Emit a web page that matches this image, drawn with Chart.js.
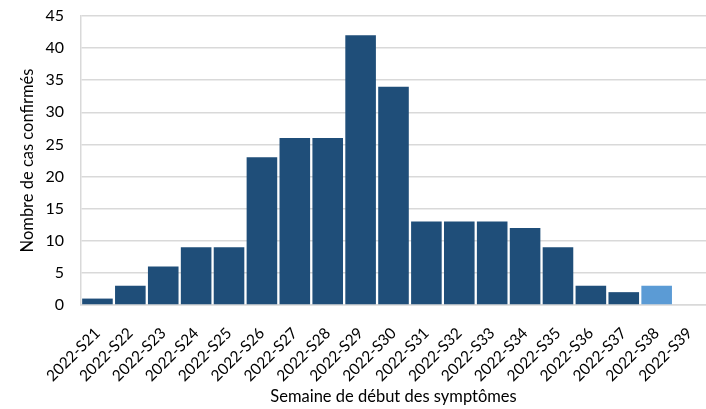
<!DOCTYPE html>
<html><head><meta charset="utf-8">
<script src="https://cdn.jsdelivr.net/npm/chart.js@4/dist/chart.umd.min.js"></script>
<style>html,body{margin:0;padding:0;background:#fff}#wrap{width:706px;height:409px}</style>
</head><body><div id="wrap"><canvas id="c"></canvas></div>
<script>
const categories = ["2022-S21","2022-S22","2022-S23","2022-S24","2022-S25","2022-S26","2022-S27","2022-S28","2022-S29","2022-S30","2022-S31","2022-S32","2022-S33","2022-S34","2022-S35","2022-S36","2022-S37","2022-S38","2022-S39"];
const cases = [1,3,6,9,9,23,26,26,42,34,13,13,13,12,9,3,2,3,0];
const partial = [false,false,false,false,false,false,false,false,false,false,false,false,false,false,false,false,false,true,false];
const yTicks = [0,5,10,15,20,25,30,35,40,45];
const FONT = "Lato, 'Open Sans', sans-serif";
new Chart(document.getElementById('c'), {
  type: 'bar',
  data: { labels: categories, datasets: [{
    data: cases,
    backgroundColor: partial.map(p => p ? '#5B9BD5' : '#1F4E79'),
    barPercentage: 0.93, categoryPercentage: 1.0, borderWidth: 0
  }]},
  options: {
    responsive: true, maintainAspectRatio: false, animation: false,
    layout: { padding: { top: 0, right: 0, left: 14, bottom: 0 } },
    plugins: { legend: { display: false }, tooltip: { enabled: false } },
    scales: {
      x: {
        grid: { display: false },
        border: { display: true, color: '#d9d9d9', width: 1.5 },
        ticks: { color: '#000', font: { family: FONT, size: 15.5 }, minRotation: 45, maxRotation: 45, autoSkip: false, padding: 11 },
        title: { display: true, text: 'Semaine de début des symptômes', color: '#000', font: { family: FONT, size: 16.5 }, padding: { top: 4, bottom: 2 } },
        afterFit: s => { s.height = 104; s.paddingRight = 0; s.paddingLeft = 0; }
      },
      y: {
        min: 0, max: 45,
        afterBuildTicks: s => { s.ticks = yTicks.map(v => ({ value: v })); },
        grid: { color: '#d9d9d9', lineWidth: 1.5, drawTicks: false },
        border: { display: true, color: '#d9d9d9', width: 1.5 },
        ticks: { color: '#000', font: { family: FONT, size: 16 }, padding: 17 },
        title: { display: true, text: 'Nombre de cas confirmés', color: '#000', font: { family: FONT, size: 16.5 }, padding: { bottom: 2 } },
        afterFit: s => { s.width = 67; s.paddingTop = 16; s.paddingBottom = 0; }
      }
    }
  }
});
</script></body></html>
